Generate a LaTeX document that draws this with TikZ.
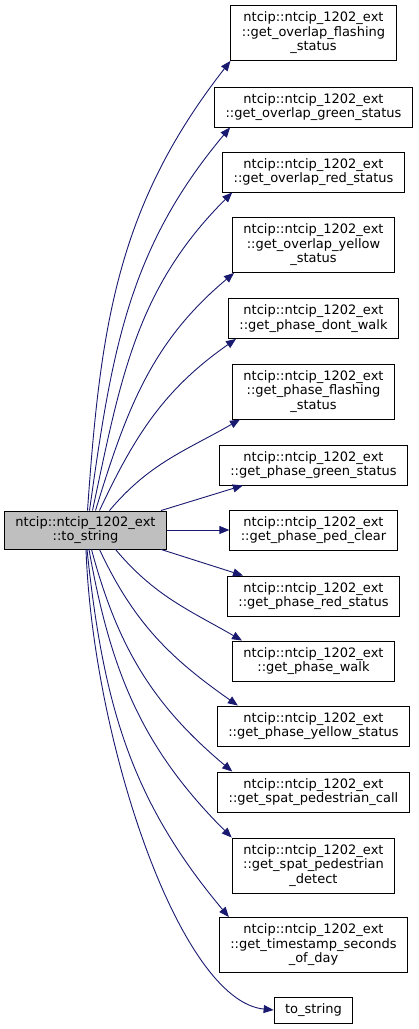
\documentclass[tikz,border=0pt]{standalone}
\usepackage{fontspec}
\setmainfont{DejaVu Sans}
\usetikzlibrary{arrows.meta}
\definecolor{midnightblue}{HTML}{191970}
\definecolor{grey75}{HTML}{BFBFBF}

\begin{document}
\begin{tikzpicture}[x=1pt, y=1pt,
    box/.style={draw=black, line width=0.9pt, fill=white, align=center,
      inner xsep=11pt, inner ysep=2pt, minimum height=40pt,
      font=\fontsize{13}{14.5}\selectfont},
    tallbox/.style={box, minimum height=55pt},
    call/.style={draw=midnightblue, line width=0.9pt,
      -{Triangle[length=10pt, width=8pt, fill=midnightblue]}}]
  \useasboundingbox (0,0) rectangle (419,1029);
  % caller
  \node[box, fill=grey75, minimum height=38pt] (tostr) at (85.5,499) {ntcip::ntcip\_1202\_ext\\::to\_string};
  % callees
  \node[tallbox] (ovflash) at (313.5,996) {ntcip::ntcip\_1202\_ext\\::get\_overlap\_flashing\\\_status};
  \node[box] (ovgreen) at (313.5,922) {ntcip::ntcip\_1202\_ext\\::get\_overlap\_green\_status};
  \node[box] (ovred) at (313.5,857) {ntcip::ntcip\_1202\_ext\\::get\_overlap\_red\_status};
  \node[tallbox] (ovyellow) at (313.5,784) {ntcip::ntcip\_1202\_ext\\::get\_overlap\_yellow\\\_status};
  \node[box] (phdontwalk) at (313.5,710.5) {ntcip::ntcip\_1202\_ext\\::get\_phase\_dont\_walk};
  \node[tallbox] (phflash) at (313.5,637.5) {ntcip::ntcip\_1202\_ext\\::get\_phase\_flashing\\\_status};
  \node[box] (phgreen) at (313.5,564) {ntcip::ntcip\_1202\_ext\\::get\_phase\_green\_status};
  \node[box] (phpedclear) at (313.5,499) {ntcip::ntcip\_1202\_ext\\::get\_phase\_ped\_clear};
  \node[box] (phred) at (313.5,433) {ntcip::ntcip\_1202\_ext\\::get\_phase\_red\_status};
  \node[box] (phwalk) at (313.5,368) {ntcip::ntcip\_1202\_ext\\::get\_phase\_walk};
  \node[box] (phyellow) at (313.5,303) {ntcip::ntcip\_1202\_ext\\::get\_phase\_yellow\_status};
  \node[box] (pedcall) at (313.5,237) {ntcip::ntcip\_1202\_ext\\::get\_spat\_pedestrian\_call};
  \node[tallbox] (peddetect) at (313.5,163.5) {ntcip::ntcip\_1202\_ext\\::get\_spat\_pedestrian\\\_detect};
  \node[tallbox] (tsday) at (313.5,84) {ntcip::ntcip\_1202\_ext\\::get\_timestamp\_seconds\\\_of\_day};
  \node[box, minimum height=26pt] (plainstr) at (313.5,19) {to\_string};
  % calls, upper fan
  \draw[call] ([xshift=2pt]tostr.north) to[out=86, in=232] (ovflash.south west);
  \draw[call] ([xshift=4pt]tostr.north) to[out=82, in=230] ([xshift=16pt]ovgreen.south west);
  \draw[call] ([xshift=7pt]tostr.north) to[out=78, in=225] ([xshift=10pt]ovred.south west);
  \draw[call] ([xshift=10pt]tostr.north) to[out=73, in=220] ([xshift=2pt]ovyellow.south west);
  \draw[call] ([xshift=14pt]tostr.north) to[out=65, in=215] ([xshift=8pt]phdontwalk.south west);
  \draw[call] ([xshift=24pt]tostr.north) to[out=50, in=210] ([xshift=8pt]phflash.south west);
  \draw[call] ([xshift=-6pt]tostr.north east) -- ([xshift=24pt]phgreen.south west);
  \draw[call] (tostr.east) -- (phpedclear.west);
  \draw[call] ([xshift=-6pt]tostr.south east) -- ([xshift=16pt]phred.north west);
  % calls, lower fan
  \draw[call] ([xshift=30pt]tostr.south) to[out=-50, in=150] ([xshift=10pt]phwalk.north west);
  \draw[call] ([xshift=14pt]tostr.south) to[out=-65, in=145] ([xshift=21pt]phyellow.north west);
  \draw[call] ([xshift=6pt]tostr.south) to[out=-75, in=140] ([xshift=15pt]pedcall.north west);
  \draw[call] ([xshift=3.5pt]tostr.south) to[out=-80, in=135] (peddetect.north west);
  \draw[call] ([xshift=1.5pt]tostr.south) to[out=-84, in=130] ([xshift=10pt]tsday.north west);
  \draw[call] ([xshift=0.5pt]tostr.south) .. controls (93,287) and (180,28) .. (plainstr.west);
\end{tikzpicture}
\end{document}
